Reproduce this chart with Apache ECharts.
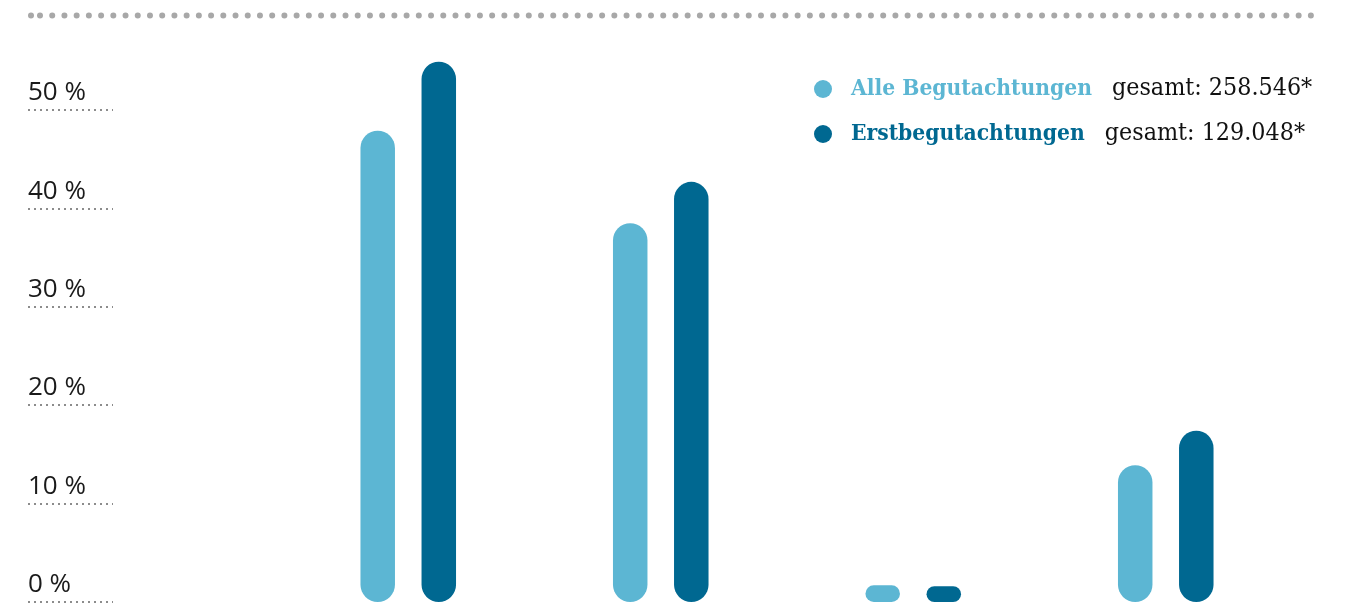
<!DOCTYPE html>
<html>
<head>
<meta charset="utf-8">
<script src="https://cdn.jsdelivr.net/npm/echarts@6/dist/echarts.min.js"></script>
<style>
html,body{margin:0;padding:0;background:#fff;}
#chart{width:1348px;height:604px;}
</style>
</head>
<body>
<div id="chart"></div>
<script>
const categories = ['Kategorie 1', 'Kategorie 2', 'Kategorie 3', 'Kategorie 4'];
const seriesNames = ['Alle Begutachtungen', 'Erstbegutachtungen'];
const totals = ['258.546*', '129.048*'];
const alleValues = [47.9, 38.5, 1.7, 13.9];
const erstValues = [54.9, 42.7, 1.6, 17.4];
const yTicks = [0, 10, 20, 30, 40, 50];

const LIGHT = '#5cb6d3';
const DARK = '#006891';
const serifFont = '"DejaVu Serif Condensed", "DejaVu Serif", serif';

const chart = echarts.init(document.getElementById('chart'), null, {renderer: 'canvas'});

const option = {
  animation: false,
  backgroundColor: '#fff',
  grid: [
    {left: 282, width: 1010, top: 11.6, bottom: 2, containLabel: false},
    {left: 28, width: 85, top: 110, bottom: 2.3, containLabel: false}
  ],
  xAxis: [
    {type: 'category', gridIndex: 0, data: categories, show: false},
    {type: 'value', gridIndex: 1, min: 0, max: 1, show: false}
  ],
  yAxis: [
    {type: 'value', gridIndex: 0, min: 0, max: 60, interval: 10, show: false},
    {
      type: 'value', gridIndex: 1,
      min: yTicks[0], max: yTicks[yTicks.length - 1], interval: 10,
      axisLine: {show: false}, axisTick: {show: false},
      splitLine: {show: true, lineStyle: {color: '#8c8c8c', width: 2, type: [2, 4]}},
      axisLabel: {
        inside: true, margin: 0, align: 'left', verticalAlign: 'bottom',
        fontFamily: '"Open Sans", sans-serif', fontSize: 26, color: '#1a1a1a',
        lineHeight: 26, padding: [0, 0, 4, 0],
        formatter: v => v + ' %'
      }
    }
  ],
  legend: {
    show: true,
    orient: 'vertical',
    left: 809, top: 70,
    itemWidth: 18, itemHeight: 18, itemGap: 17,
    icon: 'circle',
    selectedMode: false,
    data: seriesNames,
    formatter: function (name) {
      const i = seriesNames.indexOf(name);
      return (i === 0 ? '{a|' : '{b|') + name + '}{g|gesamt: ' + totals[i] + '}';
    },
    textStyle: {
      lineHeight: 28,
      rich: {
        a: {color: LIGHT, fontWeight: 'bold', fontFamily: serifFont, fontSize: 22.6, padding: [0, 0, 0, 14]},
        b: {color: DARK, fontWeight: 'bold', fontFamily: serifFont, fontSize: 22.6, padding: [0, 0, 0, 14]},
        g: {color: '#111', fontFamily: serifFont, fontSize: 24.8, padding: [0, 0, 0, 20]}
      }
    }
  },
  series: [
    {
      name: seriesNames[0], type: 'bar', xAxisIndex: 0, yAxisIndex: 0,
      data: alleValues, barWidth: 34.5, barGap: '77%',
      itemStyle: {color: LIGHT, borderRadius: 17.25}
    },
    {
      name: seriesNames[1], type: 'bar', xAxisIndex: 0, yAxisIndex: 0,
      data: erstValues, barWidth: 34.5, barGap: '77%',
      itemStyle: {color: DARK, borderRadius: 17.25}
    }
  ],
  graphic: [
    {type: 'line', shape: {x1: 40, y1: 15.5, x2: 1312, y2: 15.5},
     style: {stroke: '#a8a8a8', lineWidth: 6, lineCap: 'round', lineDash: [0, 12.22]}, silent: true},
    {type: 'circle', shape: {cx: 31, cy: 15.5, r: 3}, style: {fill: '#a8a8a8'}, silent: true}
  ]
};
chart.setOption(option);
</script>
</body>
</html>
